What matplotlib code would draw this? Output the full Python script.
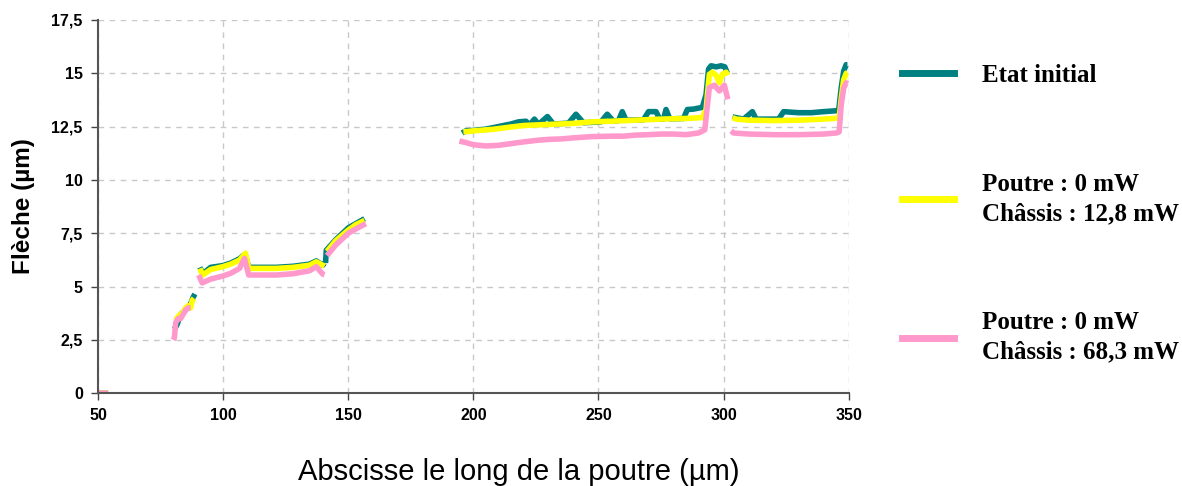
import numpy as np
import matplotlib.pyplot as plt
from matplotlib.lines import Line2D

nan = np.nan

# Etat initial (teal)
x_init = [50, 52, 54, nan,
          80.5, 81.5, 83, 85, 87, 88, 88.7, nan,
          90.7, 91.8, 95, 99.8, 103, 106.5, 108, 108.9, 110.2, 115, 121.2, 128, 134.5, 137.2, 139.8, 140.5, nan,
          140.9, 141.2, 145, 150, 153, 156.5, nan,
          195.5, 197, 200, 205, 210, 215, 218, 221, 222.5, 224.4, 226, 229.6, 232, 238, 241, 244, 251, 253.5,
          256, 258, 259.5, 261, 268, 270, 273, 274.5, 276, 277, 278.5, 284, 285.5, 288, 291.5,
          293, 294, 295, 297, 299, 300.5, 301.5, nan,
          303.6, 308, 311.5, 313, 322, 324, 330, 335, 340, 346, 347, 348, 349, 349.5]
y_init = [0, 0, 0, nan,
          3.0, 3.2, 3.7, 3.9, 4.2, 4.5, 4.65, nan,
          5.9, 5.6, 5.9, 5.98, 6.1, 6.3, 6.45, 6.45, 5.9, 5.9, 5.9, 5.95, 6.05, 6.2, 6.0, 6.1, nan,
          6.1, 6.7, 7.2, 7.75, 7.95, 8.18, nan,
          12.2, 12.3, 12.32, 12.38, 12.5, 12.62, 12.72, 12.75, 12.58, 12.85, 12.6, 12.97, 12.62, 12.66, 13.08, 12.68, 12.72, 13.08,
          12.75, 12.78, 13.2, 12.8, 12.82, 13.2, 13.2, 12.85, 12.85, 13.3, 12.86, 12.88, 13.3, 13.32, 13.4,
          14.0, 15.2, 15.35, 15.3, 15.35, 15.3, 15.0, nan,
          12.95, 12.85, 13.2, 12.85, 12.85, 13.2, 13.15, 13.15, 13.2, 13.25, 14.3, 15.1, 15.4, 15.4]

# Poutre 0 mW / Chassis 12,8 mW (yellow)
x_y128 = [50, 52, 54, nan,
          81, 82, 83, 84, 85, 86, 87, 87.6, 88.3, nan,
          90.7, 91.8, 95, 99.8, 103, 106.5, 108.9, 110.2, 115, 121.2, 128, 134.5, 137.2, 139.8, 140.5, nan,
          141.5, 145, 150, 153, 156.5, nan,
          196, 200, 207.7, 215, 220, 230, 240, 247.5, 255, 265, 275, 285, 291.5,
          293, 294.3, 295.5, 297, 298.3, 299.5, 301, 301.6, nan,
          303.6, 305, 310, 320, 330, 340, 346.2, 347, 348, 349, 349.5]
y_y128 = [0, 0, 0, nan,
          3.4, 3.6, 3.7, 3.8, 4.0, 4.1, 4.0, 4.35, 4.45, nan,
          5.85, 5.54, 5.8, 5.93, 6.05, 6.24, 6.56, 5.85, 5.85, 5.85, 5.9, 6.0, 6.16, 6.0, 5.95, nan,
          6.65, 7.15, 7.65, 7.9, 8.1, nan,
          12.25, 12.3, 12.37, 12.48, 12.55, 12.6, 12.65, 12.72, 12.75, 12.8, 12.85, 12.88, 12.92,
          13.3, 14.95, 15.05, 14.9, 14.56, 14.95, 15.05, 14.9, nan,
          12.92, 12.85, 12.8, 12.78, 12.8, 12.85, 12.9, 13.8, 14.7, 15.0, 15.03]

# Poutre 0 mW / Chassis 68,3 mW (pink)
x_y683 = [50, 52, 54, nan,
          80, 80.5, 81, 82, 83, 84, 85, 86, 87, nan,
          90.2, 91.6, 95, 99.8, 103, 106.5, 108.5, 110.2, 115, 121.2, 128, 134.5, 137.2, 139.8, 140.5, nan,
          141.5, 145, 150, 153, 157, nan,
          194.4, 197, 200, 205, 210, 215, 220, 225, 230, 235, 240, 247.5, 255, 260, 265, 270, 275, 280, 285, 290, 292.5,
          294.3, 296.3, 298.3, 300.3, 301.7, nan,
          303, 304, 310, 320, 330, 340, 345, 346.2, 347, 348, 349, 349.5]
y_y683 = [0, 0, 0, nan,
          2.5, 2.6, 3.3, 3.5, 3.5, 3.7, 3.9, 4.0, 4.0, nan,
          5.54, 5.17, 5.35, 5.49, 5.62, 5.85, 6.32, 5.54, 5.54, 5.54, 5.6, 5.74, 5.93, 5.58, 5.55, nan,
          6.45, 6.95, 7.5, 7.7, 7.95, nan,
          11.82, 11.75, 11.65, 11.59, 11.62, 11.7, 11.78, 11.85, 11.9, 11.92, 11.97, 12.03, 12.05, 12.05, 12.1, 12.12, 12.15, 12.15, 12.12, 12.2, 12.35,
          14.33, 14.44, 14.17, 14.44, 13.78, nan,
          12.3, 12.2, 12.15, 12.12, 12.12, 12.15, 12.2, 12.25, 13.5, 14.3, 14.55, 14.5]

labels = ['Etat initial',
          'Poutre : 0 mW\nChâssis : 12,8 mW',
          'Poutre : 0 mW\nChâssis : 68,3 mW']
colors = ['#008080', '#ffff00', '#ff99cc']

xticks = [50, 100, 150, 200, 250, 300, 350]
yticks = [0, 2.5, 5, 7.5, 10, 12.5, 15, 17.5]
ytick_labels = ['0', '2,5', '5', '7,5', '10', '12,5', '15', '17,5']

fig = plt.figure(figsize=(11.82, 4.86), dpi=100)
ax = fig.add_axes([0.083, 0.191, 0.635, 0.768])

ax.plot(x_init, y_init, color=colors[0], lw=4, solid_capstyle='butt')
ax.plot(x_y128, y_y128, color=colors[1], lw=4, solid_capstyle='butt')
ax.plot(x_y683, y_y683, color=colors[2], lw=4, solid_capstyle='butt')

ax.set_xlim(50, 350)
ax.set_ylim(0, 17.5)
ax.set_xticks(xticks)
ax.set_yticks(yticks)
ax.set_yticklabels(ytick_labels)
for lab in ax.get_xticklabels() + ax.get_yticklabels():
    lab.set_fontfamily('Liberation Sans')
    lab.set_fontweight('bold')
    lab.set_fontsize(11.5)
ax.tick_params(direction='out', length=5, width=1, color='#444444', pad=6)
ax.grid(True, color='#c8c8c8', linestyle=(0, (4, 4)), lw=1)
ax.set_axisbelow(True)
for s in ['top', 'right']:
    ax.spines[s].set_visible(False)
for s in ['left', 'bottom']:
    ax.spines[s].set_color('#555555')
    ax.spines[s].set_linewidth(1.5)

ax.set_xlabel('Abscisse le long de la poutre (µm)', fontfamily='Liberation Sans',
              fontsize=21)
ax.xaxis.set_label_coords(0.56, -0.175)
ax.set_ylabel('Flèche (µm)', fontfamily='Liberation Sans', fontweight='bold',
              fontsize=17.5, labelpad=12)

handles = [Line2D([], [], color=c, lw=5) for c in colors]
leg = fig.legend(handles, labels, loc='upper left', bbox_to_anchor=(0.763, 0.869),
                 frameon=False, prop={'family': 'Liberation Serif', 'weight': 'bold', 'size': 18},
                 handlelength=2.1, handletextpad=1.1, labelspacing=3.45, borderpad=0, borderaxespad=0)
for t in leg.get_texts():
    t.set_linespacing(1.35)

fig.savefig('out.png', dpi=100)
